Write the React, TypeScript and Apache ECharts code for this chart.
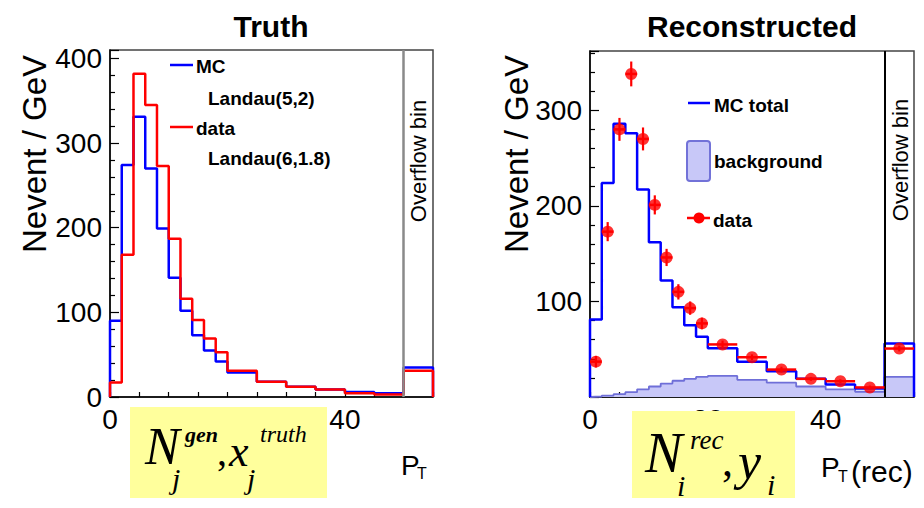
import React, { useEffect, useRef } from 'react';
import * as echarts from 'echarts';

// Bin edges (GeV), last bin = overflow bin
const binEdges = [0, 2, 4, 6, 8, 10, 12, 14, 16, 18, 20, 25, 30, 35, 40, 45, 50, 55];
// Truth histograms (Nevent / GeV)
const truthMC = [90, 274, 331, 270, 199, 141, 102, 73, 55, 42, 29, 18, 12, 9, 6, 4.4, 35];
const truthData = [17, 168, 382, 345, 273, 187, 116, 91, 69, 53, 31, 18, 12, 9, 4.4, 3, 31];
// Reconstructed histograms
const recoMC = [81, 224, 286, 276, 217, 162, 122, 94, 75, 63, 51, 37, 27, 19, 13, 9, 56];
const recoBkg = [0.5, 1.5, 3, 5, 8, 11, 14, 17, 19, 21, 22, 18, 15, 11, 8, 5.5, 21];
const recoData = [37, 173, 280, 338, 270, 201, 146, 110, 93, 77, 55, 41.6, 28.7, 19, 16.5, 10, 50.7];
const recoErr = [6, 10, 12, 13, 12, 10, 9, 8, 7, 6, 4, 3, 3, 2, 2, 2, 3];
const xTickLabels = [0, 20, 40];
const overflowEdge = 50;

const SANS = '"Liberation Sans", Arial, Helvetica, sans-serif';
const SERIF = '"Liberation Serif", "Times New Roman", serif';

function histPoints(edges: number[], vals: number[]) {
  const pts: number[][] = [[edges[0], 0]];
  vals.forEach((v, i) => {
    pts.push([edges[i], v]);
    pts.push([edges[i + 1], v]);
  });
  pts.push([edges[edges.length - 1], 0]);
  return pts;
}

function txt(x: number, y: number, text: string, font: string, extra: any = {}) {
  const align = extra.align || 'left';
  const valign = extra.valign || 'middle';
  return {
    type: 'text',
    x,
    y,
    rotation: extra.rotation || 0,
    z: extra.z ?? 50,
    style: {
      text,
      x: 0,
      y: 0,
      font,
      fill: extra.fill || '#000',
      align,
      verticalAlign: valign,
      textAlign: align,
      textVerticalAlign: valign,
    },
  };
}

function seg(x1: number, y1: number, x2: number, y2: number, color: string, w: number) {
  return {
    type: 'line',
    z: 50,
    shape: { x1, y1, x2, y2 },
    style: { stroke: color, lineWidth: w },
  };
}

function xAxisCfg(gridIndex: number) {
  return {
    type: 'value',
    gridIndex,
    min: 0,
    max: 55,
    interval: 5,
    axisLine: { show: true, lineStyle: { color: '#000', width: 1.5 } },
    axisTick: { show: true, inside: true, length: 5, lineStyle: { color: '#000', width: 1.2 } },
    splitLine: { show: false },
    axisLabel: {
      show: true,
      margin: 8,
      color: '#000',
      fontSize: 28,
      fontFamily: SANS,
      formatter: (v: number) => (xTickLabels.includes(v) ? String(v) : ''),
    },
  };
}

function yAxisCfg(gridIndex: number, max: number, showZero: boolean) {
  return {
    type: 'value',
    gridIndex,
    min: 0,
    max,
    interval: 100,
    axisLine: { show: true, lineStyle: { color: '#000', width: 1.5 } },
    axisTick: { show: true, inside: true, length: 9, lineStyle: { color: '#000', width: 1.2 } },
    minorTick: { show: true, splitNumber: 5, length: 5, lineStyle: { color: '#000', width: 1.2 } },
    splitLine: { show: false },
    minorSplitLine: { show: false },
    axisLabel: {
      show: true,
      margin: 8,
      color: '#000',
      fontSize: 28,
      fontFamily: SANS,
      formatter: (v: number) => {
        if (v % 100 !== 0) return '';
        if (v === 0 && !showZero) return '';
        return String(v);
      },
    },
  };
}

function overflowMark(color: string, width: number) {
  return {
    silent: true,
    symbol: ['none', 'none'],
    label: { show: false },
    lineStyle: { type: 'solid', color, width },
    data: [{ xAxis: overflowEdge }],
  };
}

export default function App() {
  const ref = useRef<HTMLDivElement>(null);

  useEffect(() => {
    if (!ref.current) return;
    const chart = echarts.init(ref.current, undefined, { renderer: 'svg' });

    const centers = recoData.map((_, i) => (binEdges[i] + binEdges[i + 1]) / 2);
    const errData = recoData.map((v, i) => [centers[i], v, recoErr[i], binEdges[i], binEdges[i + 1]]);
    const ptData = recoData.map((v, i) => [centers[i], v]);

    const graphic: any[] = [
      // titles
      txt(271, 26, 'Truth', `bold 30px ${SANS}`, { align: 'center' }),
      txt(752, 26, 'Reconstructed', `bold 30px ${SANS}`, { align: 'center' }),
      // y axis titles
      txt(34, 154, 'Nevent / GeV', `33px ${SANS}`, { align: 'center', rotation: Math.PI / 2 }),
      txt(516, 154, 'Nevent / GeV', `33px ${SANS}`, { align: 'center', rotation: Math.PI / 2 }),
      // overflow labels
      txt(418, 161, 'Overflow bin', `22px ${SANS}`, { align: 'center', rotation: Math.PI / 2 }),
      txt(900, 160, 'Overflow bin', `22px ${SANS}`, { align: 'center', rotation: Math.PI / 2 }),
      // left legend
      seg(170, 65, 193, 65, '#0000ff', 2.5),
      txt(196, 66, 'MC', `bold 19px ${SANS}`),
      txt(208, 98, 'Landau(5,2)', `bold 19px ${SANS}`),
      seg(170, 127, 193, 127, '#ff0000', 2.5),
      txt(196, 128, 'data', `bold 19px ${SANS}`),
      txt(208, 158, 'Landau(6,1.8)', `bold 19px ${SANS}`),
      // right legend
      seg(688, 103, 710, 103, '#0000ff', 2.5),
      txt(714, 105, 'MC total', `bold 19px ${SANS}`),
      {
        type: 'rect',
        z: 50,
        shape: { x: 687, y: 141, width: 23, height: 40, r: 3 },
        style: { fill: '#c8c8f8', stroke: '#7272d8', lineWidth: 2 },
      },
      txt(714, 161, 'background', `bold 19px ${SANS}`),
      seg(687, 218, 710, 218, '#ff0000', 2.5),
      { type: 'circle', z: 51, shape: { cx: 699, cy: 218, r: 5.5 }, style: { fill: '#ff0000' } },
      txt(713, 220, 'data', `bold 19px ${SANS}`),
      // x axis titles
      txt(401, 465, 'P', `28px ${SANS}`),
      txt(417, 473, 'T', `16px ${SANS}`),
      txt(821, 467, 'P', `28px ${SANS}`),
      txt(838, 476, 'T', `16px ${SANS}`),
      txt(851, 471, '(rec)', `30px ${SANS}`),
      // yellow boxes
      { type: 'rect', z: 90, shape: { x: 130, y: 407, width: 197, height: 91 }, style: { fill: '#ffff9c' } },
      { type: 'rect', z: 90, shape: { x: 632, y: 411, width: 163, height: 87 }, style: { fill: '#ffff9c' } },
      // left math
      txt(145, 446, 'N', `italic 52px ${SERIF}`, { z: 95 }),
      txt(185, 434, 'gen', `bold italic 22px ${SERIF}`, { z: 95 }),
      txt(172, 478, 'j', `italic 30px ${SERIF}`, { z: 95 }),
      txt(217, 451, ',', `40px ${SERIF}`, { z: 95 }),
      txt(229, 451, 'x', `italic 44px ${SERIF}`, { z: 95 }),
      txt(260, 434, 'truth', `italic 24px ${SERIF}`, { z: 95 }),
      txt(247, 478, 'j', `italic 30px ${SERIF}`, { z: 95 }),
      // right math
      txt(645, 453, 'N', `italic 56px ${SERIF}`, { z: 95 }),
      txt(690, 440, 'rec', `italic 27px ${SERIF}`, { z: 95 }),
      txt(677, 485, 'i', `italic 30px ${SERIF}`, { z: 95 }),
      txt(722, 461, ',', `44px ${SERIF}`, { z: 95 }),
      txt(738, 461, 'y', `italic 52px ${SERIF}`, { z: 95 }),
      txt(767, 484, 'i', `italic 30px ${SERIF}`, { z: 95 }),
    ];

    chart.setOption({
      animation: false,
      backgroundColor: '#fff',
      grid: [
        { left: 110, top: 50, width: 323, height: 347, show: true, borderColor: '#444', borderWidth: 1.5, backgroundColor: 'transparent' },
        { left: 590, top: 51, width: 324, height: 346, show: true, borderColor: '#444', borderWidth: 1.5, backgroundColor: 'transparent' },
      ],
      xAxis: [xAxisCfg(0), xAxisCfg(1)],
      yAxis: [yAxisCfg(0, 410, true), yAxisCfg(1, 362, false)],
      series: [
        {
          type: 'line',
          name: 'MC',
          xAxisIndex: 0,
          yAxisIndex: 0,
          data: histPoints(binEdges, truthMC),
          symbol: 'none',
          lineStyle: { color: '#0000ff', width: 2.5 },
          itemStyle: { color: '#0000ff' },
          markLine: overflowMark('#8a8a8a', 2.5),
          z: 3,
        },
        {
          type: 'line',
          name: 'data',
          xAxisIndex: 0,
          yAxisIndex: 0,
          data: histPoints(binEdges, truthData),
          symbol: 'none',
          lineStyle: { color: '#ff0000', width: 2.5 },
          itemStyle: { color: '#ff0000' },
          z: 4,
        },
        {
          type: 'line',
          name: 'background',
          xAxisIndex: 1,
          yAxisIndex: 1,
          data: histPoints(binEdges, recoBkg),
          symbol: 'none',
          lineStyle: { color: '#6f6fd8', width: 1.8 },
          areaStyle: { color: '#c8c8f8', opacity: 1 },
          itemStyle: { color: '#6f6fd8' },
          z: 2,
        },
        {
          type: 'line',
          name: 'MC total',
          xAxisIndex: 1,
          yAxisIndex: 1,
          data: histPoints(binEdges, recoMC),
          symbol: 'none',
          lineStyle: { color: '#0000ff', width: 2.5 },
          itemStyle: { color: '#0000ff' },
          markLine: overflowMark('#000', 2),
          z: 3,
        },
        {
          type: 'custom',
          name: 'data errors',
          xAxisIndex: 1,
          yAxisIndex: 1,
          data: errData,
          encode: { x: 0, y: 1 },
          z: 5,
          renderItem: (params: any, api: any) => {
            const xc = api.value(0);
            const y = api.value(1);
            const e = api.value(2);
            const lo = api.value(3);
            const hi = api.value(4);
            const pT = api.coord([xc, y + e]);
            const pB = api.coord([xc, y - e]);
            const pL = api.coord([lo, y]);
            const pR = api.coord([hi, y]);
            return {
              type: 'group',
              children: [
                { type: 'line', shape: { x1: pT[0], y1: pT[1], x2: pB[0], y2: pB[1] }, style: { stroke: '#ff0000', lineWidth: 2.2 } },
                { type: 'line', shape: { x1: pL[0], y1: pL[1], x2: pR[0], y2: pR[1] }, style: { stroke: '#ff0000', lineWidth: 2.5 } },
              ],
            };
          },
        },
        {
          type: 'scatter',
          name: 'data',
          xAxisIndex: 1,
          yAxisIndex: 1,
          data: ptData,
          symbol: 'circle',
          symbolSize: 12,
          itemStyle: { color: '#ff0000' },
          z: 6,
        },
      ],
      graphic,
    });

    return () => chart.dispose();
  }, []);

  return (
    <div
      ref={ref}
      style={{ position: 'fixed', left: 0, top: 0, width: 924, height: 508, background: '#fff' }}
    />
  );
}
